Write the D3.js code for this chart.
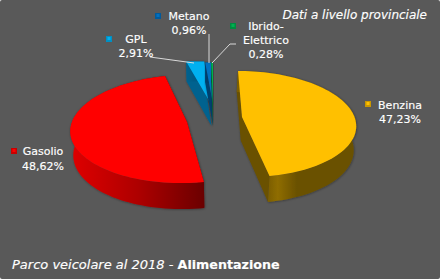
<!DOCTYPE html>
<html><head><meta charset="utf-8">
<script src="https://cdn.jsdelivr.net/npm/d3@7/dist/d3.min.js"></script>
<style>html,body{margin:0;padding:0;background:#fff;overflow:hidden}svg{display:block}text{font-family:"DejaVu Sans",sans-serif;fill:#fff;stroke:#fff;stroke-width:.15}</style>
</head><body><div id="c"></div>
<script>
const categories=["Benzina","Gasolio","GPL","Metano","Ibrido-Elettrico"];
const values=[47.23,48.62,2.91,0.96,0.28];
const valueLabels=["47,23%","48,62%","2,91%","0,96%","0,28%"];
const topColors=["#ffc000","#ff0000","#00b0f0","#0070c0","#00b050"];
const wallStart=["#8f6d00","#e00000","#00628f","#00406e","#006030"];
const wallEnd=["#6a5100","#6a0000","#004f75","#00335a","#004d26"];
const markerEdge=["#c99700","#c80000","#0090c4","#005a9c","#008c40"];

const W=440,H=279;
const svg=d3.select("#c").append("svg").attr("width",W).attr("height",H);
svg.append("rect").attr("width",W).attr("height",H).attr("rx",2).attr("fill","#595959");
const defs=svg.append("defs");
const blur=defs.append("filter").attr("id","sh").attr("x","-10%").attr("y","-10%").attr("width","120%").attr("height","120%");
blur.append("feDropShadow").attr("dx",0.5).attr("dy",0.5).attr("stdDeviation",1).attr("flood-color","#000").attr("flood-opacity",.4);

// perspective projection of each exploded slice: c centre, u/v axes, h perspective,
// dn/df extrusion depth near/far, dx/ks horizontal drift of the lower face
const proj=[
 {c:[242,117],u:[-4.5,-52.1],v:[112.5,0],h:.1325,dn:26,df:21,dx:-1.3,ks:-1.2,x0:269,x1:356},
 {c:[187,122],u:[5.2,-53.4],v:[115,0],h:.1255,dn:26,df:21,dx:.8,ks:-2.2,x0:70,x1:205},
 {c:[211,104],u:[1,-42],v:[100,7],h:0,dn:24,df:20,dx:.5,ks:0,x0:186,x1:212},
 {c:[213,104],u:[0,-41.5],v:[100,0],h:0,dn:24,df:20,dx:0,ks:0,x0:205,x1:213},
 {c:[213,104],u:[0,-41.5],v:[100,0],h:0,dn:24,df:20,dx:0,ks:0,x0:211,x1:214}
];
const pie=d3.pie().sort(null).value(d=>d)(values);
const line=d3.line();
function pt(p,a,low){const s=Math.sin(a),c=Math.cos(a),w=1+p.h*c;
 let x=p.c[0]+(s*p.v[0]+c*p.u[0])/w, y=p.c[1]+(s*p.v[1]+c*p.u[1])/w;
 if(low){x+=p.dx+p.ks*s; y+=p.dn+(p.df-p.dn)*(c+1)/2;}
 return [x,y];}

const g=svg.append("g");
[2,3,4,1,0].forEach(i=>{
 const p=proj[i],a=pie[i],n=80;
 const angles=d3.range(n+1).map(k=>a.startAngle+(a.endAngle-a.startAngle)*k/n);
 const arc=angles.map(t=>pt(p,t));
 const arcLow=angles.map(t=>pt(p,t,true));
 const centre=p.c, cLow=[p.c[0]+p.dx,p.c[1]+(p.dn+p.df)/2];
 const gid="w"+i;
 const lg=defs.append("linearGradient").attr("id",gid).attr("gradientUnits","userSpaceOnUse")
   .attr("x1",p.x0).attr("x2",p.x1).attr("y1",0).attr("y2",0);
 const stops=i===0?[[0,"#7d5f00"],[.1,wallStart[0]],[.32,wallEnd[0]],[1,wallEnd[0]]]
   :i===1?[[0,wallStart[1]],[.5,"#ae0000"],[1,wallEnd[1]]]
   :[[0,wallStart[i]],[1,wallEnd[i]]];
 stops.forEach(s=>lg.append("stop").attr("offset",s[0]).attr("stop-color",s[1]));
 const sg=g.append("g").attr("filter","url(#sh)");
 const cut=[arc[0],centre,arc[n],arcLow[n],cLow,arcLow[0],arc[0]];
 sg.append("path").attr("d",line(cut)+"Z").attr("fill",i<2?wallEnd[i]:wallStart[i]);
 sg.append("path").attr("d",line(arc.concat(arcLow.slice().reverse()))+"Z").attr("fill",`url(#${gid})`);
 sg.append("path").attr("d",line([centre].concat(arc))+"Z").attr("fill",topColors[i]);
});

const leaders=[null,null,[[150,57],[194,63]],[[209,34],[209,63]],[[236,44],[230,44],[212,63]]];
leaders.forEach(l=>{if(l)svg.append("path").attr("d",line(l)).attr("fill","none").attr("stroke","#d9d9d9").attr("stroke-width",1);});

const labelPos=[
 {x:400,y:[109,123],k:[365,101]},
 {x:43,y:[155,170],k:[11,148]},
 {x:136,y:[43,57],k:[106,36]},
 {x:189,y:[20,34],k:[155,13]},
 {x:266,y:[30,44,58],k:[230,23]}
];
const labelLines=categories.map((c,i)=>c==="Ibrido-Elettrico"?["Ibrido-","Elettrico",valueLabels[i]]:[c,valueLabels[i]]);
labelPos.forEach((l,i)=>{
 labelLines[i].forEach((t,j)=>svg.append("text").attr("x",l.x).attr("y",l.y[j]).attr("text-anchor","middle").attr("font-size",11).text(t));
 svg.append("rect").attr("x",l.k[0]).attr("y",l.k[1]).attr("width",6).attr("height",6).attr("fill",markerEdge[i]);
 svg.append("rect").attr("x",l.k[0]+1.5).attr("y",l.k[1]+1).attr("width",3).attr("height",3).attr("fill",topColors[i]);
});

svg.append("text").attr("x",427).attr("y",19).attr("text-anchor","end").attr("font-size",12).attr("font-style","italic").text("Dati a livello provinciale");
const t=svg.append("text").attr("x",12).attr("y",269);
t.append("tspan").attr("font-style","italic").attr("font-size",13).text("Parco veicolare al 2018 - ");
t.append("tspan").attr("font-weight","bold").attr("font-size",12.7).text("Alimentazione");
</script></body></html>
